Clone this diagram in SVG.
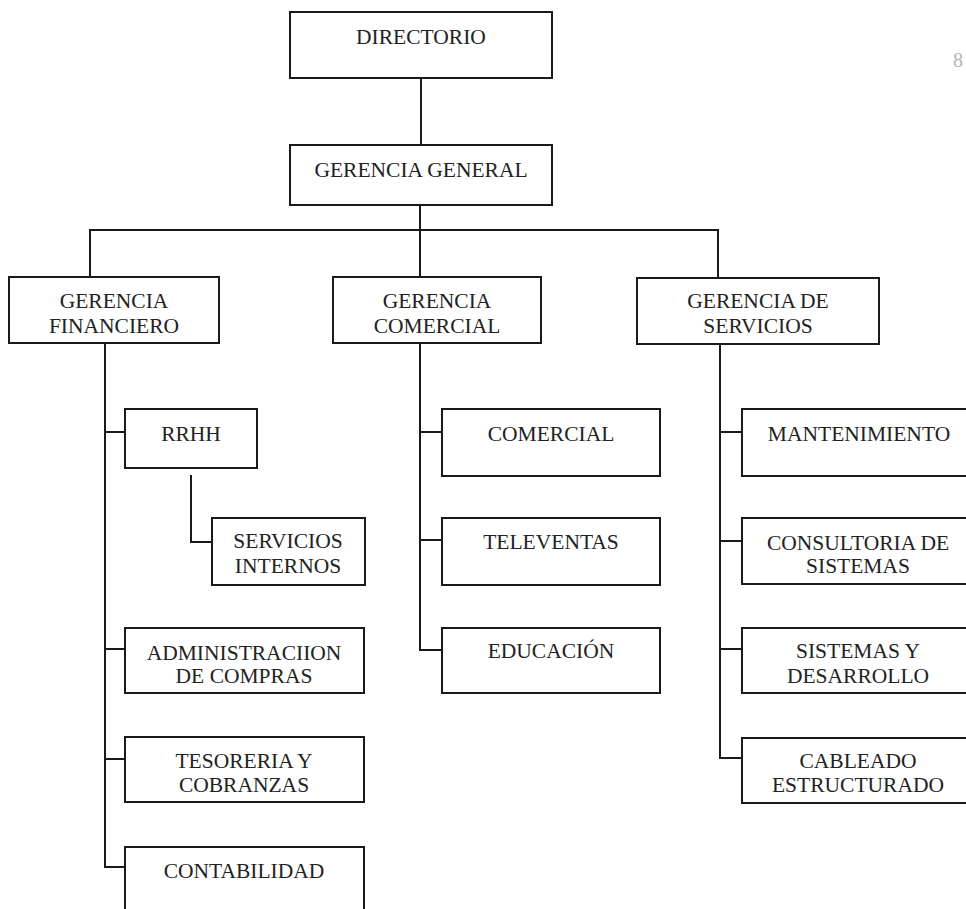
<svg xmlns="http://www.w3.org/2000/svg" width="966" height="909" viewBox="0 0 966 909">
<style>
  .box { fill: #ffffff; stroke: #1a1a1a; stroke-width: 2; }
  .ln { fill: none; stroke: #1a1a1a; stroke-width: 2; }
  text { font-family: "Liberation Serif", "Times New Roman", serif; font-size: 21.5px; fill: #222222; text-anchor: middle; }
  .pg { font-size: 20px; fill: #b5b5b5; }
</style>
<rect x="0" y="0" width="966" height="909" fill="#ffffff"/>
<g id="connectors">
  <path class="ln" d="M421 78 V145"/>
  <path class="ln" d="M420 205 V277"/>
  <path class="ln" d="M90 277 V230 H718 V278"/>
  <path class="ln" d="M105 343 V867 H125"/>
  <path class="ln" d="M105 432 H125"/>
  <path class="ln" d="M105 649 H125"/>
  <path class="ln" d="M105 759 H125"/>
  <path class="ln" d="M191 475 V542 H212"/>
  <path class="ln" d="M420 343 V650 H442"/>
  <path class="ln" d="M420 432 H442"/>
  <path class="ln" d="M420 540 H442"/>
  <path class="ln" d="M720 344 V758 H742"/>
  <path class="ln" d="M720 432 H742"/>
  <path class="ln" d="M720 541 H742"/>
  <path class="ln" d="M720 649 H742"/>
</g>
<g id="directorio"><rect class="box" x="290" y="12" width="262" height="66"/><text x="421" y="44">DIRECTORIO</text></g>
<g id="gerencia-general"><rect class="box" x="290" y="145" width="262" height="60"/><text x="421" y="177">GERENCIA GENERAL</text></g>
<g id="gerencia-financiero"><rect class="box" x="9" y="277" width="210" height="66"/><text x="114" y="308">GERENCIA</text><text x="114" y="333">FINANCIERO</text></g>
<g id="gerencia-comercial"><rect class="box" x="333" y="277" width="208" height="66"/><text x="437" y="308">GERENCIA</text><text x="437" y="333">COMERCIAL</text></g>
<g id="gerencia-servicios"><rect class="box" x="637" y="278" width="242" height="66"/><text x="758" y="308">GERENCIA DE</text><text x="758" y="333">SERVICIOS</text></g>
<g id="rrhh"><rect class="box" x="125" y="409" width="132" height="59"/><text x="191" y="441">RRHH</text></g>
<g id="servicios-internos"><rect class="box" x="212" y="518" width="153" height="67"/><text x="288" y="548">SERVICIOS</text><text x="288" y="573">INTERNOS</text></g>
<g id="administracion"><rect class="box" x="125" y="628" width="239" height="65"/><text x="244" y="660">ADMINISTRACIION</text><text x="244" y="683">DE COMPRAS</text></g>
<g id="tesoreria"><rect class="box" x="125" y="737" width="239" height="65"/><text x="244" y="768">TESORERIA Y</text><text x="244" y="792">COBRANZAS</text></g>
<g id="contabilidad"><rect class="box" x="125" y="847" width="239" height="72"/><text x="244" y="878">CONTABILIDAD</text></g>
<g id="comercial"><rect class="box" x="442" y="409" width="218" height="67"/><text x="551" y="441">COMERCIAL</text></g>
<g id="televentas"><rect class="box" x="442" y="518" width="218" height="67"/><text x="551" y="549">TELEVENTAS</text></g>
<g id="educacion"><rect class="box" x="442" y="628" width="218" height="65"/><text x="551" y="658">EDUCACIÓN</text></g>
<g id="mantenimiento"><rect class="box" x="742" y="409" width="234" height="67"/><text x="859" y="441">MANTENIMIENTO</text></g>
<g id="consultoria"><rect class="box" x="742" y="518" width="234" height="66"/><text x="858" y="550">CONSULTORIA DE</text><text x="858" y="573">SISTEMAS</text></g>
<g id="sistemas-desarrollo"><rect class="box" x="742" y="628" width="234" height="65"/><text x="858" y="658">SISTEMAS Y</text><text x="858" y="683">DESARROLLO</text></g>
<g id="cableado"><rect class="box" x="742" y="738" width="234" height="65"/><text x="858" y="768">CABLEADO</text><text x="858" y="792">ESTRUCTURADO</text></g>
<text class="pg" x="958" y="67">8</text>
</svg>
